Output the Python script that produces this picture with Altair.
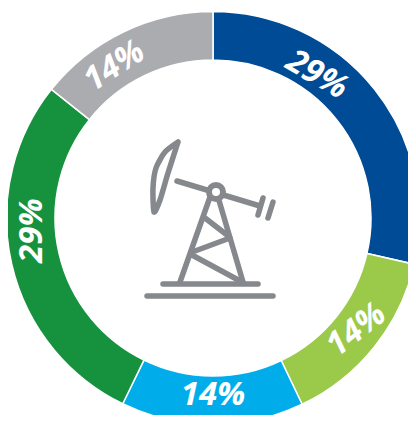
import altair as alt
import pandas as pd

# Ring
segments = ["Dark blue", "Light green", "Cyan", "Green", "Grey"]
shares = [28.6, 14.3, 14.3, 28.5, 14.3]
colors = ["#004b96", "#9bca4b", "#00adea", "#16923f", "#abacb0"]

# Labels
labels = ["29%", "14%", "14%", "29%", "14%"]
label_bearing = [36, 128, 180, 266, 327]
label_radius = [177, 182, 177, 181, 181]
label_rotation = [30, 322, 0, 270, 327]

# Pump-jack icon
line_ids = ["base", "base", "deck", "deck", "legL", "legL", "legR", "legR",
            "b1", "b1", "b2", "b2", "b3", "b3", "beam", "beam",
            "end", "end", "tail", "tail"]
line_x = [147, 273, 163, 258, 210, 180, 218, 243,
          205, 227, 195, 230, 192, 242, 177, 260,
          263, 258, 273, 268]
line_y = [296, 296, 284, 284, 197, 282, 197, 282,
          218, 235, 251, 238, 255, 282, 181, 206,
          198, 215, 202, 218]
head_x = [178, 165, 156, 153, 154, 160, 168, 178]
head_y = [142, 152, 168, 188, 212, 200, 173, 142]
hub_x = [216]
hub_y = [192]

CX, CY = 213, 218
ICON = "#85888c"

ring = pd.DataFrame({"segment": segments, "share": shares, "idx": range(5)})
lab = pd.DataFrame({"text": labels, "b": label_bearing, "r": label_radius, "rot": label_rotation})
lines = pd.DataFrame({"id": line_ids, "x": line_x, "y": line_y, "o": range(len(line_x))})
head = pd.DataFrame({"x": head_x, "y": head_y, "o": range(len(head_x))})
hub = pd.DataFrame({"x": hub_x, "y": hub_y})

xs = alt.Scale(domain=[8, 408], range=[0, 400])
ys = alt.Scale(domain=[8, 415], range=[0, 407])
X = alt.X("x:Q", scale=xs, axis=None)
Y = alt.Y("y:Q", scale=ys, axis=None)

arcs = alt.Chart(ring).mark_arc(outerRadius=206.5, innerRadius=158, stroke="white", strokeWidth=1.5).encode(
    theta=alt.Theta("share:Q", stack=True),
    order=alt.Order("idx:Q"),
    color=alt.Color("segment:N", scale=alt.Scale(domain=segments, range=colors), legend=None),
    x=alt.value(CX - 8),
    y=alt.value(CY - 8),
)

text = alt.Chart(lab).transform_calculate(
    x=f"{CX} + datum.r * sin(datum.b * PI / 180)",
    y=f"{CY} - datum.r * cos(datum.b * PI / 180)",
).mark_text(font="Open Sans", fontWeight="bold", fontStyle="italic", fontSize=33,
            color="white", align="center", baseline="middle").encode(
    x=X, y=Y, text="text:N", angle=alt.Angle("rot:Q", scale=None),
)

icon_lines = alt.Chart(lines).mark_line(color=ICON, strokeWidth=5.5, strokeCap="round").encode(
    x=X, y=Y, detail="id:N", order="o:Q")
icon_head = alt.Chart(head).mark_line(color=ICON, strokeWidth=5.5, strokeCap="round", strokeJoin="round",
                                      interpolate="cardinal", tension=0.3).encode(x=X, y=Y, order="o:Q")
icon_hub = alt.Chart(hub).mark_point(filled=True, fill="white", stroke=ICON, strokeWidth=6, size=196, opacity=1).encode(x=X, y=Y)

chart = alt.layer(arcs, text, icon_lines, icon_head, icon_hub).properties(
    width=400, height=407, padding=0, autosize=alt.AutoSizeParams(type="none"),
).configure_view(stroke=None)

chart.save("out.html", embed_options={"renderer": "svg", "actions": False})
